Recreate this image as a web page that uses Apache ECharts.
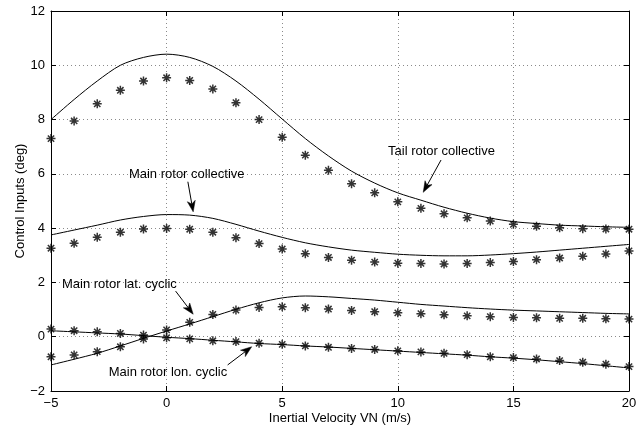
<!DOCTYPE html>
<html>
<head>
<meta charset="utf-8">
<script src="https://cdn.jsdelivr.net/npm/echarts@6/dist/echarts.min.js"></script>
<style>
html,body{margin:0;padding:0;background:#fff;}
#c{width:637px;height:431px;}
</style>
</head>
<body>
<div id="c"></div>
<script>
// Data
var velocity = [-5,-4,-3,-2,-1,0,1,2,3,4,5,6,7,8,9,10,11,12,13,14,15,16,17,18,19,20];

var tailLine  = [8.00,8.74,9.42,10.00,10.29,10.41,10.29,9.96,9.42,8.75,8.02,7.30,6.66,6.10,5.66,5.30,5.03,4.77,4.55,4.37,4.24,4.17,4.11,4.08,4.05,4.03];
var tailStars = [7.30,7.95,8.58,9.08,9.42,9.54,9.44,9.13,8.62,8.00,7.35,6.69,6.13,5.64,5.30,4.97,4.73,4.53,4.38,4.26,4.14,4.07,4.01,3.98,3.97,3.96];

var mainLine  = [3.75,3.93,4.11,4.30,4.43,4.50,4.48,4.36,4.14,3.89,3.66,3.46,3.31,3.19,3.11,3.04,3.00,2.98,2.98,3.01,3.06,3.12,3.19,3.26,3.33,3.40];
var mainStars = [3.26,3.44,3.66,3.85,3.97,3.99,3.96,3.85,3.65,3.43,3.23,3.06,2.92,2.82,2.75,2.71,2.70,2.68,2.70,2.73,2.77,2.84,2.90,2.96,3.05,3.16];

var latLine   = [-1.04,-0.83,-0.61,-0.34,-0.06,0.21,0.47,0.74,1.01,1.25,1.43,1.50,1.47,1.41,1.35,1.27,1.19,1.13,1.07,1.02,0.98,0.95,0.92,0.89,0.86,0.84];
var latStars  = [-0.74,-0.67,-0.55,-0.37,-0.08,0.25,0.53,0.82,0.98,1.08,1.10,1.07,1.02,0.97,0.92,0.88,0.85,0.81,0.77,0.74,0.71,0.70,0.68,0.68,0.66,0.65];

var lonLine   = [0.22,0.18,0.14,0.10,0.04,-0.02,-0.07,-0.13,-0.19,-0.25,-0.29,-0.34,-0.38,-0.43,-0.48,-0.53,-0.58,-0.63,-0.68,-0.74,-0.79,-0.85,-0.92,-0.99,-1.07,-1.15];
var lonStars  = [0.28,0.22,0.18,0.12,0.06,-0.04,-0.08,-0.15,-0.18,-0.24,-0.28,-0.34,-0.39,-0.43,-0.47,-0.52,-0.56,-0.61,-0.66,-0.74,-0.77,-0.82,-0.88,-0.94,-1.01,-1.10];

// Annotations: label, text centre [x,y], arrow start [x,y], arrow tip [x,y] (data units)
var annotations = [
  {text:'Tail rotor collective',    at:[11.89,6.81], from:[11.87,6.51], to:[11.10,5.32]},
  {text:'Main rotor collective',    at:[0.87,5.99],  from:[0.92,5.71],  to:[1.15,4.60]},
  {text:'Main rotor lat. cyclic',   at:[-2.04,1.93], from:[0.39,1.68],  to:[1.15,0.83]},
  {text:'Main rotor lon. cyclic',   at:[0.06,-1.33], from:[2.64,-1.04], to:[3.68,-0.37]}
];

var xTitle = 'Inertial Velocity VN (m/s)';
var yTitle = 'Control Inputs (deg)';

function pairs(xs, ys){ return xs.map(function(x,i){ return [x, ys[i]]; }); }

var FONT = '"Liberation Sans", Arial, Helvetica, sans-serif';
var starPath = 'path://M0,-10L0,10M-10,0L10,0M-7,-7L7,7M-7,7L7,-7';

function lineSeries(ys){
  return {type:'line', data:pairs(velocity, ys), showSymbol:false, smooth:0.3,
    lineStyle:{color:'#000', width:1}, silent:true, z:3};
}
function starSeries(ys){
  return {type:'scatter', data:pairs(velocity, ys), symbol:starPath, symbolSize:9,
    itemStyle:{color:'none', borderColor:'#000', borderWidth:1.5}, silent:true, z:4};
}
function minus(v){ return String(v).replace('-', '\u2212'); }

var chart = echarts.init(document.getElementById('c'), null, {renderer:'canvas'});
var tickCommon = {inside:true, length:5, lineStyle:{color:'#000', width:1}};
var option = {
  backgroundColor:'#fff',
  animation:false,
  textStyle:{fontFamily:FONT},
  grid:{left:51, right:8, top:11, bottom:40, containLabel:false, outerBoundsMode:'none'},
  xAxis:[
    {type:'value', position:'bottom', min:-5, max:20, interval:5,
     name:xTitle, nameLocation:'middle', nameGap:21, nameMoveOverlap:false,
     nameTextStyle:{color:'#000', fontSize:13, fontFamily:FONT},
     axisLine:{onZero:false, lineStyle:{color:'#000', width:1}},
     axisTick:tickCommon,
     axisLabel:{color:'#000', fontSize:13, fontFamily:FONT, margin:6, formatter:minus},
     splitLine:{show:true, lineStyle:{color:'#8a8a8a', width:1, type:[1,3]}}},
    {type:'value', position:'top', min:-5, max:20, interval:5,
     axisLine:{onZero:false, lineStyle:{color:'#000', width:1}},
     axisTick:tickCommon, axisLabel:{show:false}, splitLine:{show:false}}
  ],
  yAxis:[
    {type:'value', position:'left', min:-2, max:12, interval:2,
     name:yTitle, nameLocation:'middle', nameGap:24, nameMoveOverlap:false,
     nameTextStyle:{color:'#000', fontSize:13, fontFamily:FONT},
     axisLine:{show:true, onZero:false, lineStyle:{color:'#000', width:1}},
     axisTick:{show:true, inside:true, length:5, lineStyle:{color:'#000', width:1}},
     axisLabel:{color:'#000', fontSize:13, fontFamily:FONT, margin:6, formatter:minus},
     splitLine:{show:true, lineStyle:{color:'#8a8a8a', width:1, type:[1,3]}}},
    {type:'value', position:'right', min:-2, max:12, interval:2,
     axisLine:{show:true, onZero:false, lineStyle:{color:'#000', width:1}},
     axisTick:{show:true, inside:true, length:5, lineStyle:{color:'#000', width:1}},
     axisLabel:{show:false}, splitLine:{show:false}}
  ],
  series:[
    lineSeries(tailLine), starSeries(tailStars),
    lineSeries(mainLine), starSeries(mainStars),
    lineSeries(latLine),  starSeries(latStars),
    lineSeries(lonLine),  starSeries(lonStars)
  ]
};
chart.setOption(option);

function arrowGraphics(a){
  var p0 = chart.convertToPixel({xAxisIndex:0, yAxisIndex:0}, a.from);
  var p1 = chart.convertToPixel({xAxisIndex:0, yAxisIndex:0}, a.to);
  var dx = p1[0]-p0[0], dy = p1[1]-p0[1];
  var L = Math.sqrt(dx*dx+dy*dy), ux = dx/L, uy = dy/L;
  var hl = 11, hw = 4;
  var bx = p1[0]-ux*hl, by = p1[1]-uy*hl;
  var nx = -uy, ny = ux;
  var tc = chart.convertToPixel({xAxisIndex:0, yAxisIndex:0}, a.at);
  return [
    {type:'line', shape:{x1:p0[0], y1:p0[1], x2:bx+ux*3, y2:by+uy*3}, style:{stroke:'#000', lineWidth:1}, z:10},
    {type:'polygon', shape:{points:[[p1[0],p1[1]],[bx+nx*hw,by+ny*hw],[bx+ux*3,by+uy*3],[bx-nx*hw,by-ny*hw]]}, style:{fill:'#000', stroke:'#000', lineWidth:0.5}, z:10},
    {type:'text', x:tc[0], y:tc[1], style:{text:a.text, fill:'#000', font:'13px ' + FONT, align:'center', verticalAlign:'middle'}, z:11}
  ];
}
var g = [];
annotations.forEach(function(a){ g = g.concat(arrowGraphics(a)); });
chart.setOption({graphic:g});
</script>
</body>
</html>
